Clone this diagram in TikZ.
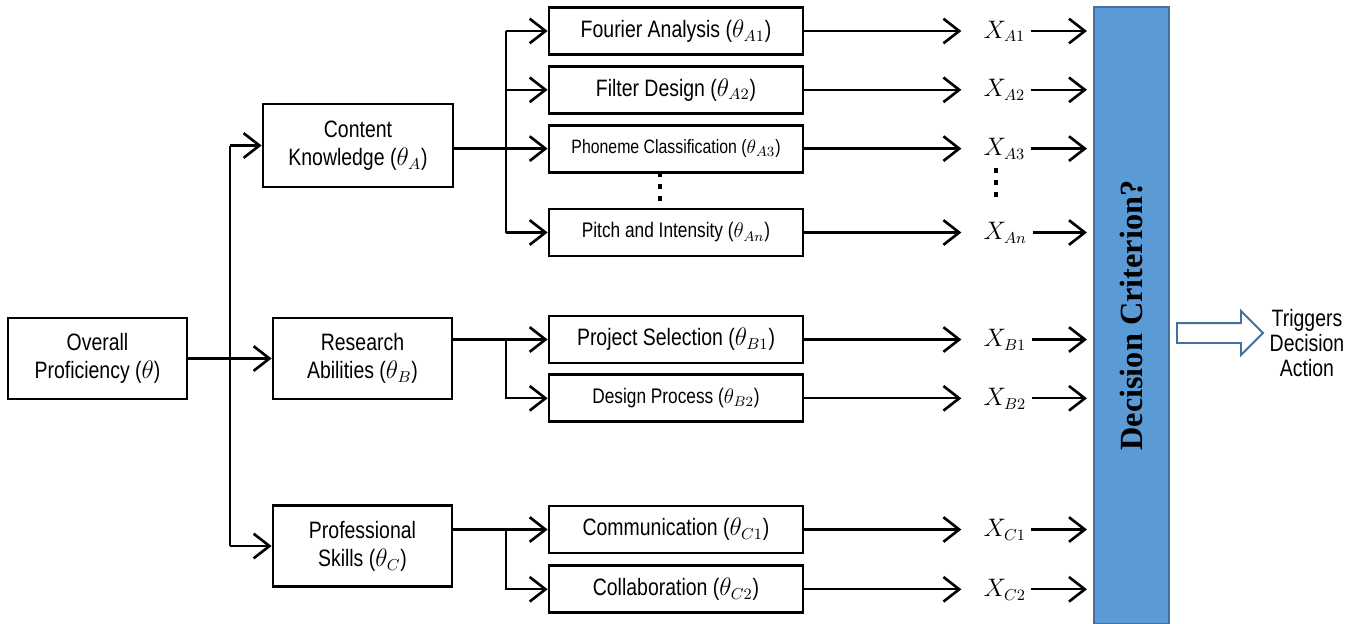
\documentclass[tikz,border=0pt]{standalone}
\usepackage{fontspec}
\setmainfont{Liberation Sans}[FakeStretch=0.82]
\newfontfamily\critfont{Liberation Serif}
\usetikzlibrary{shapes.arrows,arrows.meta,positioning,calc}
\definecolor{critblue}{HTML}{5B9BD5}
\definecolor{critedge}{HTML}{41719C}

\begin{document}
\begin{tikzpicture}[
    x=0.02cm, y=-0.02cm,
    >={Straight Barb[length=9pt,width=14pt,line width=1.5pt]},
    every node/.style={font=\fontsize{13.5}{16}\selectfont},
    factor/.style={rectangle, draw, line width=1.6pt, align=center, minimum width=3.58cm, minimum height=1.62cm, inner sep=2pt},
    skill/.style={rectangle, draw, line width=1.6pt, align=center, minimum width=5.08cm, minimum height=0.94cm, inner sep=2pt},
    small/.style={font=\fontsize{11}{13}\selectfont},
    medium/.style={font=\fontsize{12}{14}\selectfont},
    score/.style={font=\fontsize{13.5}{16}\selectfont, inner sep=1pt},
    link/.style={line width=1.3pt},
    ellipsis/.style={line width=0.09cm, dash pattern=on 0.09cm off 0.15cm},
    critbar/.style={rectangle, fill=critblue, draw=critedge, line width=1.2pt, minimum width=1.5cm, minimum height=12.34cm}
]
\useasboundingbox (0,0) rectangle (1355,623);

% Overall and the three factors
\node[factor] (ov) at (97.5,358.5) {Overall\\Proficiency ($\theta$)};
\node[factor, minimum width=3.8cm, minimum height=1.66cm] (ck) at (358,145.5) {Content\\Knowledge ($\theta_A$)};
\node[factor] (ra) at (362.5,358.5) {Research\\Abilities ($\theta_B$)};
\node[factor] (ps) at (362.5,546) {Professional\\Skills ($\theta_C$)};

% Sub-skills
\node[skill] (fa) at (676,31) {Fourier Analysis ($\theta_{A1}$)};
\node[skill, below=0.18cm of fa] (fd) {Filter Design ($\theta_{A2}$)};
\node[skill, small, below=0.18cm of fd] (pc) {Phoneme Classification ($\theta_{A3}$)};
\node[skill, medium] (pi) at (676,232.5) {Pitch and Intensity ($\theta_{An}$)};

\node[skill] (pj) at (676,339.5) {Project Selection ($\theta_{B1}$)};
\node[skill, medium, below=0.18cm of pj] (dp) {Design Process ($\theta_{B2}$)};

\node[skill] (cm) at (676,529.5) {Communication ($\theta_{C1}$)};
\node[skill, below=0.2cm of cm] (cb) {Collaboration ($\theta_{C2}$)};

% Decision bar and action
\node[critbar] (bar) at (1131.5,315.5) {};
\node[rotate=90, font=\critfont\fontsize{18.4}{20}\selectfont\bfseries] (crit) at (bar.center) {Decision Criterion?};
\node[single arrow, draw=critedge, fill=white, line width=1.1pt, minimum height=1.72cm,
      single arrow head extend=0.24cm, inner sep=0.18cm, anchor=west] (trig) at (1176,333) {};
\node[align=center, font=\fontsize{13.5}{14.2}\selectfont] (act) at (1307,343) {Triggers\\Decision\\Action};

% Trunk from overall
\coordinate (trunk) at (230,0);
\coordinate (split) at (506,0);
\draw[link] (ck.west -| trunk) -- (ps.west -| trunk);
\draw[link,->] (ck.west -| trunk) -- (ck.west);
\draw[link,->] (ps.west -| trunk) -- (ps.west);
\draw[link,->] (ov) -- (ra);

% Branches to sub-skills
\draw[link,->] (ck.east |- pc.west) -- (pc.west);
\draw[link] (fa.west -| split) -- (pi.west -| split);
\foreach \s in {fa,fd,pi}
    \draw[link,->] (\s.west -| split) -- (\s.west);
\draw[link,->] (ra.east |- pj.west) -- (pj.west);
\draw[link,->] (pj.west -| split) |- (dp.west);
\draw[link,->] (ps.east |- cm.west) -- (cm.west);
\draw[link,->] (cm.west -| split) |- (cb.west);

% Observed scores
\foreach \s/\id in {fa/A1, fd/A2, pc/A3, pi/An, pj/B1, dp/B2, cm/C1, cb/C2} {
    \path (\s.east) ++(177,7) node[score, anchor=base west] (x\id) {$X_{\id}$};
    \draw[link,->, shorten >=0.4cm] (\s.east) -- (\s.east -| x\id.west);
    \draw[link,->, shorten <=2pt, shorten >=0.12cm] (\s.east -| x\id.east) -- (\s.east -| bar.west);
}

% Ellipses
\draw[ellipsis] (660,172) -- (660,204);
\draw[ellipsis] (996,168) -- (996,200);

\end{tikzpicture}
\end{document}
